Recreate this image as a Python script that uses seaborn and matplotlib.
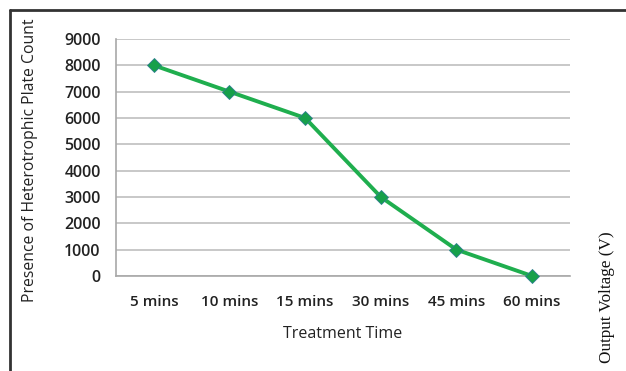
import matplotlib
matplotlib.use("Agg")
import matplotlib.pyplot as plt
import seaborn as sns
import pandas as pd
from matplotlib.lines import Line2D
from matplotlib.ticker import FixedLocator

# Data
treatment_times = ["5 mins", "10 mins", "15 mins", "30 mins", "45 mins", "60 mins"]
plate_counts = [8000, 7000, 6000, 3000, 1000, 0]
y_ticks = [0, 1000, 2000, 3000, 4000, 5000, 6000, 7000, 8000, 9000]

df = pd.DataFrame({"time": treatment_times, "count": plate_counts})

sns.set_theme(style="white")
plt.rcParams["font.family"] = ["Open Sans", "DejaVu Sans"]

W, H = 626, 371
fig = plt.figure(figsize=(W / 100, H / 100), dpi=100)
ax = fig.add_axes([116 / W, 1 - 276 / H, (570 - 116) / W, (276 - 39) / H])

sns.lineplot(data=df, x="time", y="count", ax=ax, color="#1fae4e",
             linewidth=2.8, marker="D", markersize=7,
             markerfacecolor="#16a04a", markeredgecolor="#2e7f8f",
             markeredgewidth=0.6, sort=False, clip_on=False, zorder=5)

ax.set_xlim(-0.5, len(treatment_times) - 0.5)
ax.set_ylim(0, 9000)
ax.set_yticks(y_ticks)
ax.set_yticklabels([str(v) for v in y_ticks], fontsize=11.5,
                   color="#222222", fontweight="semibold")
ax.set_xticks(range(len(treatment_times)))
ax.set_xticklabels(treatment_times, fontsize=11, color="#222222",
                   fontweight="semibold")
ax.tick_params(axis="x", length=0, pad=14)
ax.tick_params(axis="y", length=7, width=1, color="#a0a0a0", direction="out", pad=4)

# category boundary ticks along the bottom
ax.xaxis.set_minor_locator(FixedLocator([i + 0.5 for i in range(-1, len(treatment_times))]))
ax.tick_params(axis="x", which="minor", length=5, width=1.2, color="#a0a0a0", direction="out")

ax.grid(axis="y", color="#c4c4c4", linewidth=1.3)
ax.set_axisbelow(True)
for side in ["top", "right"]:
    ax.spines[side].set_visible(False)
ax.spines["left"].set_color("#a8a8a8")
ax.spines["bottom"].set_color("#a8a8a8")
ax.spines["left"].set_linewidth(1.2)
ax.spines["bottom"].set_linewidth(1.2)

ax.set_xlabel("Treatment Time", fontsize=11.5, color="#222222", labelpad=12)
ax.set_ylabel("")
fig.text(30 / W, 1 - 160 / H, "Presence of Heterotrophic Plate Count",
         rotation=90, ha="center", va="center", fontsize=11.3, color="#222222")

fig.text(607 / W, 1 - 297 / H, "Output Voltage (V)", rotation=90,
         ha="center", va="center", fontsize=12.3, color="#111111",
         family=["Liberation Serif", "DejaVu Serif"])

# outer frame lines
fig.add_artist(Line2D([9.5 / W, 9.5 / W], [0, 1 - 10 / H], transform=fig.transFigure,
                      color="#333333", linewidth=2))
fig.add_artist(Line2D([9.5 / W, 1], [1 - 10 / H, 1 - 10 / H], transform=fig.transFigure,
                      color="#333333", linewidth=2))

fig.savefig("out.png", dpi=100)
